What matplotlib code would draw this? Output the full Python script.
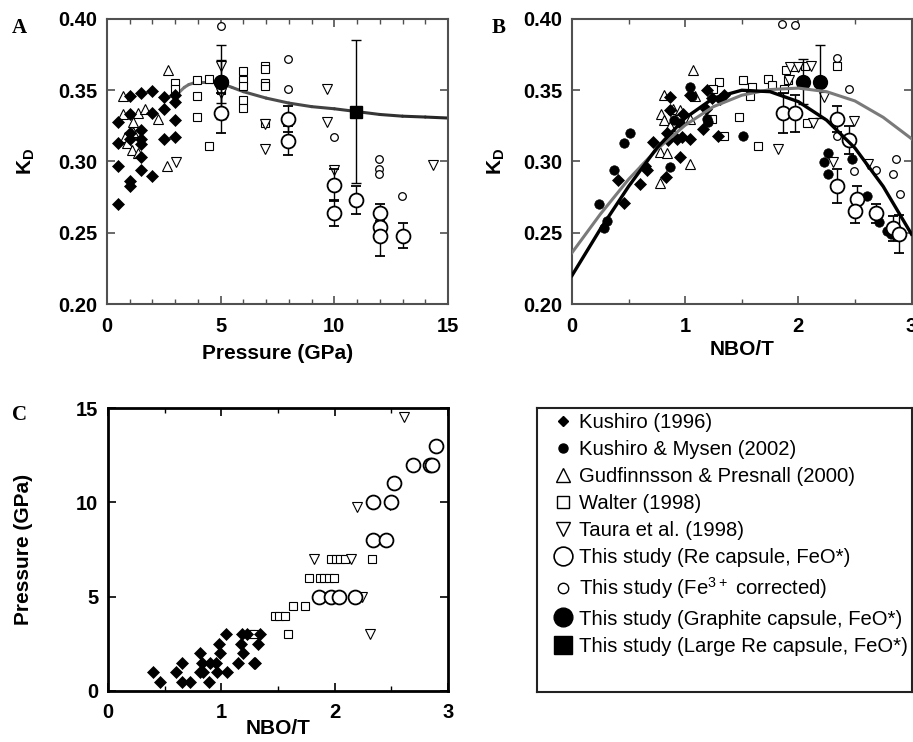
import matplotlib
matplotlib.use('Agg')
import matplotlib.pyplot as plt
import numpy as np
from matplotlib.collections import LineCollection
from matplotlib.lines import Line2D
from matplotlib.ticker import MultipleLocator

plt.rcParams['font.family'] = ['Liberation Sans', 'DejaVu Sans']
plt.rcParams['mathtext.fontset'] = 'custom'
plt.rcParams['mathtext.rm'] = 'Liberation Sans'
plt.rcParams['mathtext.bf'] = 'Liberation Sans:bold'

# ---------------- Panel A: KD vs pressure ----------------
kush96_p = [0.5, 0.5, 0.5, 0.5, 1.0, 1.0, 1.0, 1.0, 1.0, 1.0, 1.5, 1.5, 1.5, 1.5, 1.5, 1.5,
            2.0, 2.0, 2.0, 2.5, 2.5, 2.5, 3.0, 3.0, 3.0, 3.0]
kush96_kd = [0.328, 0.313, 0.297, 0.270, 0.346, 0.333, 0.320, 0.316, 0.286, 0.283,
             0.348, 0.322, 0.316, 0.312, 0.303, 0.294, 0.3495, 0.334, 0.290,
             0.345, 0.337, 0.316, 0.347, 0.342, 0.329, 0.317]
gud_p = [0.72, 0.72, 0.79, 0.9, 1.08, 1.16, 1.16, 1.38, 1.38, 1.67, 2.26, 2.67, 2.62]
gud_kd = [0.346, 0.333, 0.317, 0.313, 0.308, 0.328, 0.321, 0.334, 0.306, 0.337, 0.330, 0.364, 0.2965]
walter_p = [3.0, 3.0, 3.96, 3.96, 3.96, 4.5, 4.5, 5.0, 6.0, 6.0, 6.0, 6.0, 6.0,
            6.95, 6.95, 6.95, 6.95, 6.95]
walter_kd = [0.355, 0.351, 0.357, 0.346, 0.331, 0.358, 0.311, 0.350, 0.3637, 0.357, 0.353,
             0.343, 0.3375, 0.367, 0.365, 0.355, 0.353, 0.327]
taura_p = [3.03, 5.0, 5.0, 6.95, 6.95, 9.66, 9.66, 9.99, 14.33]
taura_kd = [0.300, 0.367, 0.348, 0.326, 0.309, 0.351, 0.328, 0.294, 0.2975]
fe3_p = [5.0, 7.98, 7.98, 9.99, 11.98, 11.98, 11.98, 12.99]
fe3_kd = [0.395, 0.372, 0.351, 0.3174, 0.302, 0.2945, 0.291, 0.276]
re_p = [5.0, 7.98, 7.98, 10.0, 10.0, 10.95, 12.0, 12.0, 12.0, 13.0]
re_kd = [0.334, 0.330, 0.3146, 0.2835, 0.264, 0.273, 0.264, 0.254, 0.248, 0.248]
re_err = [0.014, 0.009, 0.010, 0.011, 0.009, 0.010, 0.006, 0.008, 0.014, 0.009]
gr_p = [5.0, 5.0]
gr_kd = [0.356, 0.356]
gr_err = [0.015, 0.026]
large_p = [10.95]
large_kd = [0.335]
large_err = [0.050]
curveA_p = [3.0, 3.2, 3.4, 3.6, 3.8, 4.1, 4.5, 5.0, 5.5, 6.0, 7.0, 8.0, 9.0, 10.0,
            11.0, 12.0, 13.0, 14.0, 15.0]
curveA_kd = [0.344, 0.349, 0.352, 0.354, 0.355, 0.3555, 0.3555, 0.355, 0.352, 0.349,
             0.3445, 0.341, 0.3385, 0.337, 0.335, 0.333, 0.3318, 0.3312, 0.3305]

# ---------------- Panel B: KD vs NBO/T ----------------
kush96_nbo = [0.868, 0.41, 0.456, 0.60, 0.647, 0.66, 0.72, 0.83, 0.84, 0.85, 0.956, 0.926,
              0.97, 0.985, 1.044, 1.044, 1.16, 1.18, 1.19, 1.235, 1.294, 1.31, 1.34, 0.868]
kush96_kdB = [0.345, 0.287, 0.271, 0.284, 0.297, 0.294, 0.314, 0.289, 0.320, 0.315, 0.303,
              0.316, 0.317, 0.333, 0.316, 0.347, 0.323, 0.337, 0.350, 0.3445, 0.3176,
              0.344, 0.347, 0.336]
km02_nbo = [0.235, 0.28, 0.31, 0.37, 0.46, 0.515, 0.87, 1.044, 1.06, 1.19, 1.205, 0.956,
            0.897, 1.515, 2.225, 2.26, 2.26, 2.47, 2.61, 2.71, 2.78, 2.82]
km02_kd = [0.270, 0.253, 0.258, 0.294, 0.313, 0.320, 0.296, 0.352, 0.346, 0.330, 0.328,
           0.327, 0.329, 0.318, 0.300, 0.3058, 0.291, 0.302, 0.276, 0.2578, 0.2514, 0.249]
gud_nbo = [0.81, 0.79, 0.81, 0.89, 0.956, 1.07, 1.09, 1.04, 0.78, 0.84, 0.78, 1.04, 0.868]
gud_kdB = [0.347, 0.333, 0.329, 0.337, 0.336, 0.364, 0.346, 0.330, 0.307, 0.306, 0.285,
           0.298, 0.325]
walter_nbo = [1.30, 1.25, 1.34, 1.235, 1.51, 1.48, 1.59, 1.57, 1.64, 1.73, 1.77, 1.89,
              1.91, 1.97, 2.06, 2.08, 2.34, 1.87]
walter_kdB = [0.356, 0.351, 0.318, 0.330, 0.357, 0.331, 0.352, 0.346, 0.311, 0.358, 0.354,
              0.364, 0.357, 0.366, 0.367, 0.327, 0.367, 0.351]
taura_nbo = [1.82, 1.93, 2.0, 2.115, 1.92, 2.13, 2.225, 2.31, 2.49, 2.62]
taura_kdB = [0.309, 0.366, 0.366, 0.367, 0.357, 0.3268, 0.3455, 0.300, 0.3286, 0.298]
fe3_nbo = [1.86, 1.97, 2.34, 2.45, 2.34, 2.49, 2.69, 2.86, 2.84, 2.90]
fe3_kdB = [0.3965, 0.396, 0.3724, 0.351, 0.318, 0.2935, 0.294, 0.302, 0.2915, 0.277]
re_nbo = [1.865, 1.97, 2.34, 2.45, 2.34, 2.52, 2.50, 2.69, 2.84, 2.89]
re_kdB = [0.334, 0.334, 0.330, 0.315, 0.283, 0.2735, 0.265, 0.2636, 0.253, 0.249]
re_errB = [0.014, 0.013, 0.009, 0.010, 0.012, 0.0095, 0.0085, 0.0065, 0.009, 0.0135]
gr_nbo = [2.04, 2.19]
gr_kdB = [0.356, 0.356]
gr_errB = [0.0157, 0.0255]
curve_nbo = [0.0, 0.25, 0.5, 0.75, 1.0, 1.25, 1.5, 1.75, 2.0, 2.25, 2.5, 2.75, 3.0]
curve_black = [0.220, 0.2525, 0.2825, 0.3095, 0.3305, 0.3445, 0.3500, 0.3490, 0.3420,
               0.3290, 0.3095, 0.2825, 0.2490]
curve_gray = [0.236, 0.263, 0.2875, 0.3085, 0.3255, 0.3385, 0.3465, 0.3505, 0.3515,
              0.349, 0.3425, 0.331, 0.316]

# ---------------- Panel C: pressure vs NBO/T ----------------
kush96_nboC = [0.40, 0.46, 0.60, 0.65, 0.65, 0.72, 0.81, 0.81, 0.83, 0.84, 0.89, 0.90, 0.95,
               0.96, 0.98, 0.99, 1.04, 1.05, 1.15, 1.17, 1.18, 1.19, 1.23, 1.29, 1.30,
               1.34, 1.32]
kush96_pC = [1.0, 0.5, 1.0, 1.5, 0.5, 0.5, 2.0, 1.0, 1.5, 1.0, 0.5, 1.5, 1.5, 1.0, 2.5, 2.0,
             3.0, 1.0, 1.5, 2.5, 3.0, 2.0, 3.0, 1.5, 1.5, 3.0, 2.5]
walter_nboC = [1.26, 1.29, 1.47, 1.51, 1.56, 1.585, 1.635, 1.74, 1.77, 1.87, 1.91, 1.95,
               1.99, 1.865, 1.97, 2.01, 2.05, 2.09, 2.33]
walter_pC = [3.0, 3.0, 4.0, 4.0, 4.0, 3.0, 4.5, 4.5, 6.0, 6.0, 6.0, 6.0, 6.0, 5.0,
             7.0, 7.0, 7.0, 7.0, 7.0]
taura_nboC = [1.82, 2.14, 2.20, 2.31, 2.61, 2.49, 1.96, 2.24]
taura_pC = [7.0, 7.0, 9.75, 3.0, 14.5, 9.84, 5.0, 5.0]
re_nboC = [1.865, 1.97, 2.04, 2.18, 2.34, 2.45, 2.34, 2.50, 2.52, 2.69, 2.84, 2.86, 2.89]
re_pC = [5.0, 5.0, 5.0, 5.0, 8.0, 8.0, 10.0, 10.0, 11.0, 12.0, 12.0, 12.0, 13.0]

legend_labels = ['Kushiro (1996)', 'Kushiro & Mysen (2002)', 'Gudfinnsson & Presnall (2000)',
                 'Walter (1998)', 'Taura et al. (1998)', 'This study (Re capsule, FeO*)',
                 'This study (Fe$^{3+}$ corrected)', 'This study (Graphite capsule, FeO*)',
                 'This study (Large Re capsule, FeO*)']

W, H = 913, 742
fig = plt.figure(figsize=(W / 100, H / 100), dpi=100)


def px_axes(x0, y0, x1, y1):
    return fig.add_axes([x0 / W, 1 - y1 / H, (x1 - x0) / W, (y1 - y0) / H])


axA = px_axes(107, 19, 448, 304)
axB = px_axes(572, 19, 911.5, 304)
axC = px_axes(108, 408, 448, 691)

sty_dia = dict(ls='none', marker='D', ms=6.2, mfc='black', mec='black', mew=0.5)
sty_dot = dict(ls='none', marker='o', ms=6.8, mfc='black', mec='black', mew=0.5)
sty_tri = dict(ls='none', marker='^', ms=6.5, mfc='white', mec='black', mew=0.8)
sty_sq = dict(ls='none', marker='s', ms=5.2, mfc='white', mec='black', mew=0.8)
sty_trd = dict(ls='none', marker='v', ms=6.5, mfc='white', mec='black', mew=0.8)
sty_fe3 = dict(ls='none', marker='o', ms=5.5, mfc='white', mec='black', mew=0.9)
sty_re = dict(ls='none', marker='o', ms=10, mfc='white', mec='black', mew=1.3)
sty_gr = dict(ls='none', marker='o', ms=10, mfc='black', mec='black', mew=1)
sty_lg = dict(ls='none', marker='s', ms=9, mfc='black', mec='black', mew=1)
err_kw = dict(ecolor='black', elinewidth=1, capsize=3.5, capthick=1)


def gradient_line(ax, x, y, c0, c1, lw):
    pts = np.column_stack([x, y])
    segs = np.stack([pts[:-1], pts[1:]], axis=1)
    t = np.linspace(0, 1, len(segs))
    cols = [tuple(np.array(c0) * (1 - s) + np.array(c1) * s) for s in t]
    ax.add_collection(LineCollection(segs, colors=cols, linewidths=lw, capstyle='round',
                                     joinstyle='round'))


# Panel A
gradient_line(axA, curveA_p, curveA_kd, (0.5, 0.5, 0.5), (0.15, 0.15, 0.15), 2.2)
axA.plot(gud_p, gud_kd, **sty_tri)
axA.plot(walter_p, walter_kd, **sty_sq)
axA.plot(taura_p, taura_kd, **sty_trd)
axA.plot(fe3_p, fe3_kd, **sty_fe3)
axA.plot(kush96_p, kush96_kd, **sty_dia)
axA.errorbar(re_p, re_kd, yerr=re_err, **sty_re, **err_kw)
axA.errorbar(gr_p, gr_kd, yerr=gr_err, **sty_gr, **err_kw)
axA.errorbar(large_p, large_kd, yerr=large_err, **sty_lg, **err_kw)
axA.set_xlim(0, 15)
axA.set_ylim(0.20, 0.40)
axA.xaxis.set_major_locator(MultipleLocator(5))
axA.xaxis.set_minor_locator(MultipleLocator(1))
axA.yaxis.set_major_locator(MultipleLocator(0.05))
axA.yaxis.set_major_formatter(matplotlib.ticker.FormatStrFormatter('%.2f'))

# Panel B
axB.plot(curve_nbo, curve_gray, color='#7a7a7a', lw=2.2, zorder=3, solid_joinstyle='round')
axB.plot(curve_nbo, curve_black, color='black', lw=2.4, zorder=3, solid_joinstyle='round')
axB.plot(gud_nbo, gud_kdB, **sty_tri)
axB.plot(walter_nbo, walter_kdB, **sty_sq)
axB.plot(taura_nbo, taura_kdB, **sty_trd)
axB.plot(fe3_nbo, fe3_kdB, **sty_fe3)
axB.plot(km02_nbo, km02_kd, **sty_dot)
axB.plot(kush96_nbo, kush96_kdB, **sty_dia)
axB.errorbar(re_nbo, re_kdB, yerr=re_errB, **sty_re, **err_kw)
axB.errorbar(gr_nbo, gr_kdB, yerr=gr_errB, **sty_gr, **err_kw)
axB.set_xlim(0, 3)
axB.set_ylim(0.20, 0.40)
axB.xaxis.set_major_locator(MultipleLocator(1))
axB.xaxis.set_minor_locator(MultipleLocator(0.5))
axB.yaxis.set_major_locator(MultipleLocator(0.05))
axB.yaxis.set_major_formatter(matplotlib.ticker.FormatStrFormatter('%.2f'))

# Panel C
axC.plot(walter_nboC, walter_pC, **sty_sq)
axC.plot(taura_nboC, taura_pC, **sty_trd)
axC.plot(re_nboC, re_pC, **sty_re)
axC.plot(kush96_nboC, kush96_pC, **sty_dia)
axC.set_xlim(0, 3)
axC.set_ylim(0, 15)
axC.xaxis.set_major_locator(MultipleLocator(1))
axC.xaxis.set_minor_locator(MultipleLocator(0.5))
axC.yaxis.set_major_locator(MultipleLocator(5))

for ax, col, lw in [(axA, '#505050', 1.5), (axB, '#505050', 1.5), (axC, 'black', 2.0)]:
    for s in ax.spines.values():
        s.set_color(col)
        s.set_linewidth(lw)
    ax.tick_params(which='both', direction='in', top=True, right=True, color=col)
    ax.tick_params(which='major', length=6, width=1.2, pad=7)
    ax.tick_params(which='minor', length=3.5, width=1)
    ax.tick_params(axis='x', which='major', pad=9)
    for lab in ax.get_xticklabels() + ax.get_yticklabels():
        lab.set_fontsize(14.5)
        lab.set_fontweight('bold')

lab_kw = dict(fontsize=15, fontweight='bold')
axA.set_xlabel('Pressure (GPa)', **lab_kw, va='top')
axA.xaxis.set_label_coords(0.5, -0.142)
axA.set_ylabel('K$_{\\mathbf{D}}$', **lab_kw)
axA.yaxis.set_label_coords(-0.205, 0.5)
axB.set_xlabel('NBO/T', **lab_kw, va='top')
axB.xaxis.set_label_coords(0.5, -0.128)
axB.set_ylabel('K$_{\\mathbf{D}}$', **lab_kw)
axB.yaxis.set_label_coords(-0.19, 0.5)
axC.set_xlabel('NBO/T', **lab_kw, va='top')
axC.xaxis.set_label_coords(0.5, -0.10)
axC.set_ylabel('Pressure (GPa)', **lab_kw)
axC.yaxis.set_label_coords(-0.22, 0.5)

letter_kw = dict(fontsize=15, fontweight='bold', family='Liberation Serif', va='baseline')
fig.text(12 / W, 1 - 33 / H, 'A', **letter_kw)
fig.text(492 / W, 1 - 33 / H, 'B', **letter_kw)
fig.text(12 / W, 1 - 420 / H, 'C', **letter_kw)

# Legend box
lax = px_axes(537, 408, 911.5, 692)
lax.set_xticks([])
lax.set_yticks([])
for s in lax.spines.values():
    s.set_linewidth(1.5)
    s.set_color('#222222')
handles = [
    Line2D([], [], ls='none', marker='D', ms=5.5, mfc='black', mec='black'),
    Line2D([], [], ls='none', marker='o', ms=6.5, mfc='black', mec='black'),
    Line2D([], [], ls='none', marker='^', ms=9.5, mfc='white', mec='black', mew=1),
    Line2D([], [], ls='none', marker='s', ms=8.5, mfc='white', mec='black', mew=1),
    Line2D([], [], ls='none', marker='v', ms=9.5, mfc='white', mec='black', mew=1),
    Line2D([], [], ls='none', marker='o', ms=13.5, mfc='white', mec='black', mew=1.2),
    Line2D([], [], ls='none', marker='o', ms=7.5, mfc='white', mec='black', mew=1),
    Line2D([], [], ls='none', marker='o', ms=13.5, mfc='black', mec='black'),
    Line2D([], [], ls='none', marker='s', ms=12.5, mfc='black', mec='black'),
]
lax.legend(handles, legend_labels, loc='upper left', bbox_to_anchor=(0.032, 0.997),
           frameon=False, fontsize=14.6, handlelength=1.0, handletextpad=0.27,
           labelspacing=0.40, borderaxespad=0.0, borderpad=0.2)

fig.savefig('out.png', dpi=100, facecolor='white')
